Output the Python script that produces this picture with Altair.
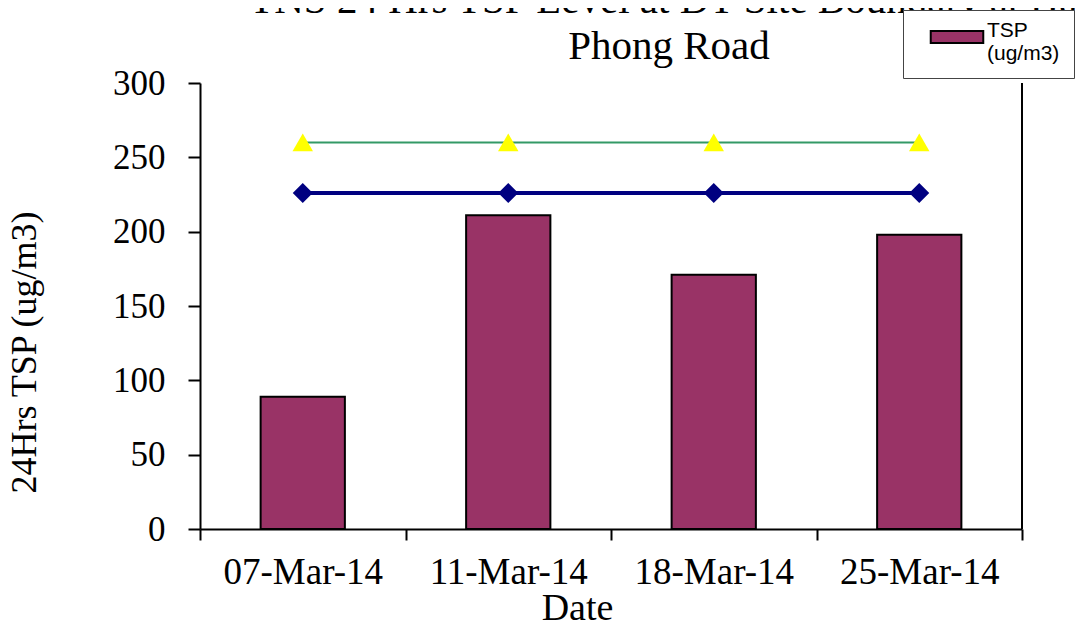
import altair as alt
import pandas as pd

# ---- data ----
dates = ["07-Mar-14", "11-Mar-14", "18-Mar-14", "25-Mar-14"]
tsp_values = [89, 211, 171, 198]
limit_level = [260, 260, 260, 260]
action_level = [226, 226, 226, 226]
series_names = ["TSP", "TSP", "TSP", "TSP"]
title_lines = ["TNS 24 Hrs TSP Level at DT Site Boundary at Hai", "Phong Road"]
y_ticks = [0, 50, 100, 150, 200, 250, 300]

df = pd.DataFrame({
    "date": dates,
    "tsp": tsp_values,
    "limit": limit_level,
    "action": action_level,
    "series": series_names,
})

SERIF = "Liberation Serif"
SANS = "Liberation Sans"

x_axis = alt.Axis(
    title="Date", tickBand="extent", labelAngle=0,
    labelFont=SERIF, labelFontSize=37, labelColor="black",
    labelBaseline="alphabetic", labelPadding=43,
    tickSize=11, tickColor="black", tickWidth=2,
    domainColor="black", domainWidth=2, grid=False,
    titleFont=SERIF, titleFontSize=38, titleFontWeight="normal", titleColor="black",
    titleX=377, titleY=90, titleBaseline="alphabetic", titleAlign="center",
)
y_axis = alt.Axis(
    title="24Hrs TSP (ug/m3)", values=y_ticks,
    labelFont=SERIF, labelFontSize=35, labelColor="black", labelPadding=23,
    tickSize=12, tickColor="black", tickWidth=2,
    domainColor="black", domainWidth=2, grid=False,
    titleFont=SERIF, titleFontSize=36, titleFontWeight="normal", titleColor="black",
    titleX=-165, titleY=269, titleBaseline="alphabetic", titleAlign="center",
)

x_enc = alt.X("date:N", sort=dates,
              scale=alt.Scale(paddingInner=0, paddingOuter=0), axis=x_axis)


def y_enc(field):
    return alt.Y(f"{field}:Q", scale=alt.Scale(domain=[0, 300], nice=False), axis=y_axis)


base = alt.Chart(df)

bars = base.mark_bar(stroke="black", strokeWidth=2, width=alt.RelativeBandSize(0.41)).encode(
    x=x_enc,
    y=y_enc("tsp"),
    color=alt.Color(
        "series:N",
        scale=alt.Scale(range=["#993366"]),
        legend=alt.Legend(
            title=None, orient="none", legendX=703, legendY=-73,
            fillColor="white", strokeColor="#444444", padding=14,
            symbolType="M-2.2,-0.5H2.2V0.5H-2.2Z", symbolSize=570, symbolOffset=27,
            symbolStrokeColor="black", symbolStrokeWidth=2, symbolOpacity=1,
            labelFont=SANS, labelFontSize=21, labelColor="black",
            labelExpr="['TSP', '(ug/m3)" + "\u00a0" * 12 + "']",
            labelBaseline="alphabetic", labelOffset=17, zindex=2,
        ),
    ),
)

limit_line = base.mark_line(color="#339966", strokeWidth=2).encode(x=x_enc, y=y_enc("limit"))
limit_pts = base.mark_point(shape="triangle-up", filled=True, size=420, color="#FFFF00", opacity=1).encode(
    x=x_enc, y=y_enc("limit"))
action_line = base.mark_line(color="#000080", strokeWidth=4).encode(x=x_enc, y=y_enc("action"))
action_pts = base.mark_point(shape="diamond", filled=True, size=400, color="#000080", opacity=1).encode(
    x=x_enc, y=y_enc("action"))

right_border = base.mark_rule(color="black", strokeWidth=2).encode(
    x=alt.value(822), y=alt.value(0), y2=alt.value(446))

title = alt.Chart(alt.Data(values=[{"k": 0}])).mark_text(
    text=title_lines, font=SERIF, fontSize=41, lineHeight=46,
    align="center", baseline="alphabetic", color="black",
).encode(x=alt.value(469), y=alt.value(-70))

chart = alt.layer(
    bars, limit_line, limit_pts, action_line, action_pts, right_border, title
).properties(
    width=822, height=446,
    autosize=alt.AutoSizeParams(type="none"),
    padding={"left": 192, "top": 75, "right": 53, "bottom": 91},
    background="white",
).configure_view(stroke="transparent")

chart.save("out.html", embed_options={"renderer": "svg", "actions": False})
